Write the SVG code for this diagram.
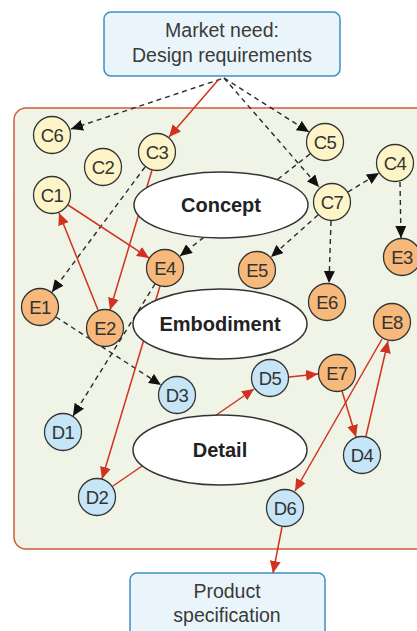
<svg xmlns="http://www.w3.org/2000/svg" width="417" height="631" viewBox="0 0 417 631">
<defs>
<style>
.box{fill:#eaf5fb;stroke:#3d8fc2;stroke-width:1.5}
.frame{fill:#eff4e6;stroke:#d45a3c;stroke-width:1.5}
.bt{font-family:"Liberation Sans",Arial,sans-serif;font-size:19.5px;fill:#3a3a3a;text-anchor:middle}
.n{stroke:#333;stroke-width:1.3}
.c{fill:#fdf5c8}
.e{fill:#f6b97b}
.dd{fill:#c6e6f7}
.nt{font-family:"Liberation Sans",Arial,sans-serif;font-size:18.5px;letter-spacing:-0.6px;fill:#333;text-anchor:middle}
.el{fill:#fff;stroke:#333;stroke-width:1.5}
.et{font-family:"Liberation Sans",Arial,sans-serif;font-size:20px;font-weight:bold;fill:#222;text-anchor:middle}
.d{fill:none;stroke:#2a2a2a;stroke-width:1.4;stroke-dasharray:5 4;marker-end:url(#ak)}
.r{fill:none;stroke:#d1321f;stroke-width:1.5;marker-end:url(#ar)}
</style>
<marker id="ak" markerUnits="userSpaceOnUse" markerWidth="13" markerHeight="11" refX="12" refY="5.5" orient="auto"><path d="M0,0 L12,5.5 L0,11 z" fill="#111"/></marker>
<marker id="ar" markerUnits="userSpaceOnUse" markerWidth="13" markerHeight="11" refX="12" refY="5.5" orient="auto"><path d="M0,0 L12,5.5 L0,11 z" fill="#d1321f"/></marker>
</defs>
<rect class="frame" x="14" y="108" width="420" height="441" rx="12"/>
<g id="market">
<rect class="box" x="104" y="12" width="236" height="64" rx="7"/>
<text class="bt" x="222" y="37">Market need:</text>
<text class="bt" x="222" y="62">Design requirements</text>
</g>
<g id="product">
<rect class="box" x="130" y="573" width="195" height="70" rx="7"/>
<text class="bt" x="227" y="598">Product</text>
<text class="bt" x="227" y="622">specification</text>
</g>
<g id="connectors">
<path class="d" d="M221,79 L71,129"/>
<path class="d" d="M224,78 L309,132"/>
<path class="d" d="M224,78 L319,187"/>
<path class="d" d="M348,192 L379,173"/>
<path class="d" d="M400,182 L401,238"/>
<path class="d" d="M310,154 L180,256"/>
<path class="d" d="M145,167 L52,292"/>
<path class="d" d="M318,215 L271,257"/>
<path class="d" d="M331,221 L329,283"/>
<path class="d" d="M56,317 L161,385"/>
<path class="d" d="M155,284 L73,416"/>
<path class="r" d="M219,79 L169,137"/>
<path class="r" d="M98,310 L59,213"/>
<path class="r" d="M68,205 L149,258"/>
<path class="r" d="M152,170 L110,310"/>
<path class="r" d="M160,286 L102,479"/>
<path class="r" d="M113,486 L254,389"/>
<path class="r" d="M289,377 L318,374"/>
<path class="r" d="M342,391 L356,437"/>
<path class="r" d="M366,436 L388,341"/>
<path class="r" d="M382,339 L295,491"/>
<path class="r" d="M282,527 L273,573"/>
</g>
<g id="concept"><ellipse class="el" cx="221" cy="205" rx="87" ry="33"/><text class="et" x="221" y="212">Concept</text></g>
<g id="embodiment"><ellipse class="el" cx="220" cy="324" rx="87" ry="35"/><text class="et" x="220" y="331">Embodiment</text></g>
<g id="detail"><ellipse class="el" cx="220" cy="450" rx="87" ry="35"/><text class="et" x="220" y="457">Detail</text></g>
<g id="C6"><circle class="n c" cx="52" cy="135" r="18.5"/><text class="nt" x="52" y="141.5">C6</text></g>
<g id="C2"><circle class="n c" cx="103" cy="167" r="18.5"/><text class="nt" x="103" y="173.5">C2</text></g>
<g id="C3"><circle class="n c" cx="157" cy="152" r="18.5"/><text class="nt" x="157" y="158.5">C3</text></g>
<g id="C5"><circle class="n c" cx="325" cy="142" r="18.5"/><text class="nt" x="325" y="148.5">C5</text></g>
<g id="C4"><circle class="n c" cx="395" cy="163" r="18.5"/><text class="nt" x="395" y="169.5">C4</text></g>
<g id="C1"><circle class="n c" cx="52" cy="195" r="18.5"/><text class="nt" x="52" y="201.5">C1</text></g>
<g id="C7"><circle class="n c" cx="332" cy="202" r="18.5"/><text class="nt" x="332" y="208.5">C7</text></g>
<g id="E4"><circle class="n e" cx="165" cy="268" r="18.5"/><text class="nt" x="165" y="274.5">E4</text></g>
<g id="E5"><circle class="n e" cx="257" cy="270" r="18.5"/><text class="nt" x="257" y="276.5">E5</text></g>
<g id="E3"><circle class="n e" cx="402" cy="257" r="18.5"/><text class="nt" x="402" y="263.5">E3</text></g>
<g id="E6"><circle class="n e" cx="327" cy="302" r="18.5"/><text class="nt" x="327" y="308.5">E6</text></g>
<g id="E1"><circle class="n e" cx="40" cy="307" r="18.5"/><text class="nt" x="40" y="313.5">E1</text></g>
<g id="E2"><circle class="n e" cx="105" cy="328" r="18.5"/><text class="nt" x="105" y="334.5">E2</text></g>
<g id="E8"><circle class="n e" cx="392" cy="322" r="18.5"/><text class="nt" x="392" y="328.5">E8</text></g>
<g id="E7"><circle class="n e" cx="337" cy="373" r="18.5"/><text class="nt" x="337" y="379.5">E7</text></g>
<g id="D5"><circle class="n dd" cx="270" cy="378" r="18.5"/><text class="nt" x="270" y="384.5">D5</text></g>
<g id="D3"><circle class="n dd" cx="177" cy="395" r="18.5"/><text class="nt" x="177" y="401.5">D3</text></g>
<g id="D1"><circle class="n dd" cx="63" cy="432" r="18.5"/><text class="nt" x="63" y="438.5">D1</text></g>
<g id="D4"><circle class="n dd" cx="362" cy="455" r="18.5"/><text class="nt" x="362" y="461.5">D4</text></g>
<g id="D2"><circle class="n dd" cx="97" cy="497" r="18.5"/><text class="nt" x="97" y="503.5">D2</text></g>
<g id="D6"><circle class="n dd" cx="285" cy="508" r="18.5"/><text class="nt" x="285" y="514.5">D6</text></g>
</svg>
